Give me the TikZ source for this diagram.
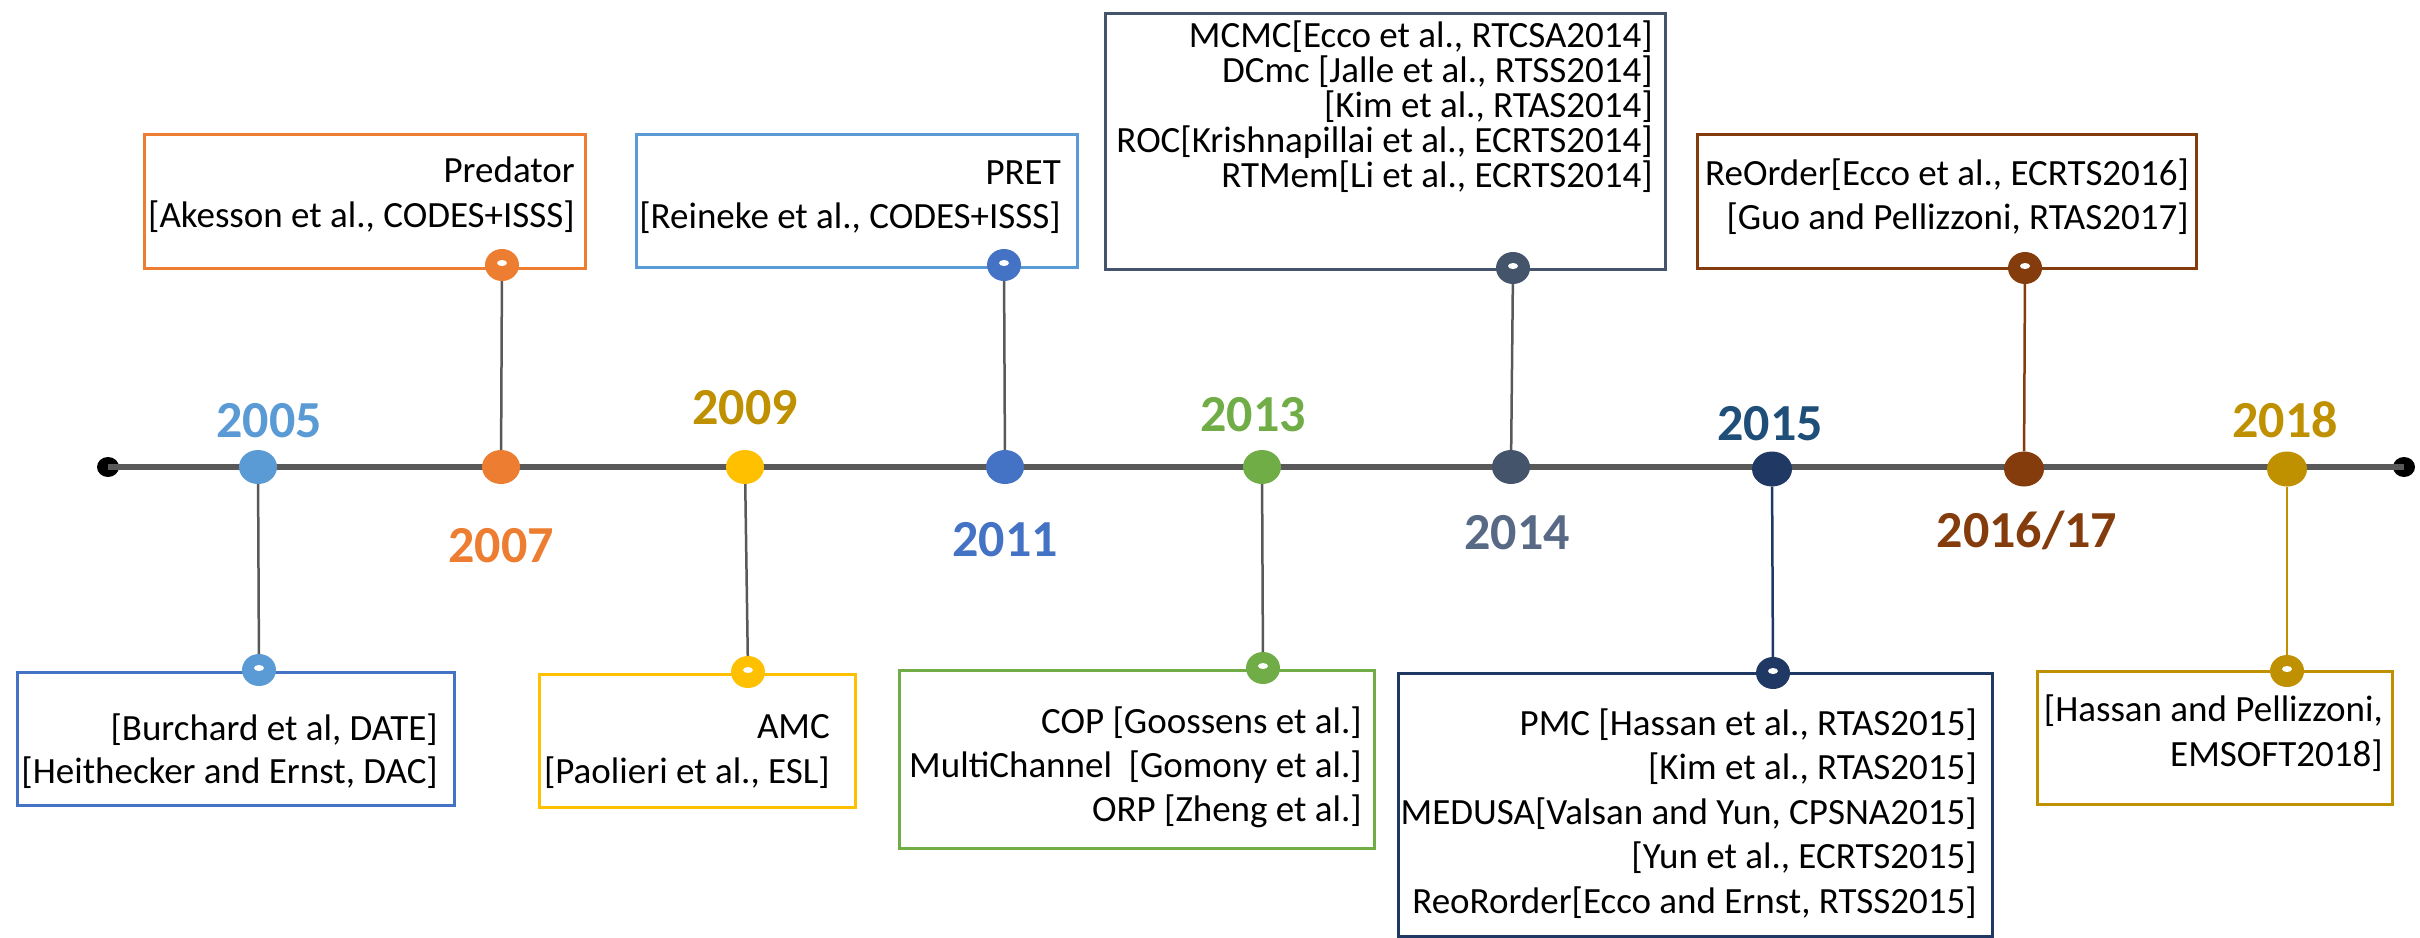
\documentclass[tikz,border=0pt]{standalone}
\usepackage{fontspec}
\setmainfont{Carlito}
\usetikzlibrary{shapes.geometric}
\definecolor{tlgray}{HTML}{595959}
\definecolor{cA}{HTML}{5B9BD5}
\definecolor{cB}{HTML}{4472C4}
\definecolor{cOr}{HTML}{ED7D31}
\definecolor{cYe}{HTML}{FFC000}
\definecolor{cGo}{HTML}{BF9000}
\definecolor{cGr}{HTML}{70AD47}
\definecolor{cSl}{HTML}{44546A}
\definecolor{cSlT}{HTML}{576985}
\definecolor{cNv}{HTML}{203864}
\definecolor{cNvT}{HTML}{1F4E79}
\definecolor{cBr}{HTML}{843C0C}
\tikzset{
  tline/.style={line width=6pt, draw=tlgray},
  enddot/.style={ellipse, fill=black, minimum width=22pt, minimum height=20pt, inner sep=0},
  yeardot/.style={ellipse, minimum width=38pt, minimum height=34pt, inner sep=0},
  pinc/.style={ellipse, minimum width=34pt, minimum height=32pt, inner sep=0,
    path picture={\fill[white] ([yshift=2pt]path picture bounding box.center) ellipse [x radius=5pt, y radius=3pt];}},
  conn/.style={line width=2.5pt, draw=tlgray},
  ebox/.style={rectangle, draw, line width=2.5pt, inner sep=0, anchor=north west},
  yr/.style={font=\bfseries\fontsize{52}{60}\selectfont, anchor=base, inner sep=0},
  tx/.style={font=\fontsize{37}{44}\selectfont, anchor=base east, inner sep=0, text=black},
}
\begin{document}
\begin{tikzpicture}[x=1pt, y=-1pt]
\useasboundingbox (0,0) rectangle (2420,937);
\fill[white] (0,0) rectangle (2420,937);

% end points and timeline
\node[enddot] (L) at (108,467) {};
\node[enddot] (R) at (2404,467) {};
\draw[tline] (L.center) -- (R.center);

% boxes
\node[ebox, draw=cB,  minimum width=437pt, minimum height=133pt] (B05) at (16,671) {};
\node[ebox, draw=cOr, minimum width=441pt, minimum height=134pt] (B07) at (143,133) {};
\node[ebox, draw=cYe, minimum width=316pt, minimum height=133pt] (B09) at (538,673) {};
\node[ebox, draw=cA,  minimum width=441pt, minimum height=133pt] (B11) at (635,133) {};
\node[ebox, draw=cGr, minimum width=475pt, minimum height=178pt] (B13) at (898,669) {};
\node[ebox, draw=cSl, minimum width=560pt, minimum height=256pt] (B14) at (1104,12) {};
\node[ebox, draw=cNv, minimum width=594pt, minimum height=263pt] (B15) at (1397,672) {};
\node[ebox, draw=cBr, minimum width=499pt, minimum height=134pt] (B16) at (1696,133) {};
\node[ebox, draw=cGo, minimum width=355pt, minimum height=133pt] (B18) at (2036,670) {};

% year dots
\node[yeardot, fill=cA]  (D05) at (258,467) {};
\node[yeardot, fill=cOr] (D07) at (501,467) {};
\node[yeardot, fill=cYe] (D09) at (745,467) {};
\node[yeardot, fill=cB]  (D11) at (1005,467) {};
\node[yeardot, fill=cGr] (D13) at (1262,467) {};
\node[yeardot, fill=cSl] (D14) at (1511,467) {};
\node[yeardot, fill=cNv, minimum width=40pt, minimum height=35pt] (D15) at (1772,469) {};
\node[yeardot, fill=cBr, minimum width=40pt, minimum height=35pt] (D16) at (2024,469) {};
\node[yeardot, fill=cGo, minimum width=40pt, minimum height=35pt] (D18) at (2287,469) {};

% pins
\node[pinc, fill=cA]  (P05) at (259,670) {};
\node[pinc, fill=cOr] (P07) at (502,265) {};
\node[pinc, fill=cYe] (P09) at (748,672) {};
\node[pinc, fill=cB]  (P11) at (1004,265) {};
\node[pinc, fill=cGr] (P13) at (1263,668) {};
\node[pinc, fill=cSl] (P14) at (1513,268) {};
\node[pinc, fill=cNv] (P15) at (1773,673) {};
\node[pinc, fill=cBr] (P16) at (2025,268) {};
\node[pinc, fill=cGo] (P18) at (2287,671) {};

% connectors
\draw[conn] (D05) -- (P05);
\draw[conn] (D07) -- (P07);
\draw[conn] (D09) -- (P09);
\draw[conn] (D11) -- (P11);
\draw[conn] (D13) -- (P13);
\draw[conn] (D14) -- (P14);
\draw[conn, draw=cNv] (D15) -- (P15);
\draw[conn, draw=cBr] (D16) -- (P16);
\draw[conn, draw=cGo] (D18) -- (P18);

% year labels
\node[yr, text=cA]   (Y05) at (269,437) {2005};
\node[yr, text=cOr]  (Y07) at (501,562) {2007};
\node[yr, text=cGo]  (Y09) at (745,424) {2009};
\node[yr, text=cB]   (Y11) at (1005,556) {2011};
\node[yr, text=cGr]  (Y13) at (1253,431) {2013};
\node[yr, text=cSlT] (Y14) at (1517,549) {2014};
\node[yr, text=cNvT] (Y15) at (1770,440) {2015};
\node[yr, text=cBr]  (Y16) at (2027,547) {2016/17};
\node[yr, text=cGo]  (Y18) at (2285,437) {2018};

% texts
\node[tx] (T05a) at (438,740) {[Burchard et al, DATE]};
\node[tx] (T05b) at (438,783) {[Heithecker and Ernst, DAC]};

\node[tx] (T07a) at (575,182) {Predator};
\node[tx] (T07b) at (575,227) {[Akesson et al., CODES+ISSS]};

\node[tx] (T09a) at (830,738) {AMC};
\node[tx] (T09b) at (830,783) {[Paolieri et al., ESL]};

\node[tx] (T11a) at (1061,184) {PRET};
\node[tx] (T11b) at (1061,228) {[Reineke et al., CODES+ISSS]};

\node[tx] (T13a) at (1362,733) {COP [Goossens et al.]};
\node[tx] (T13b) at (1362,777) {MultiChannel\ \ [Gomony et al.]};
\node[tx] (T13c) at (1362,821) {ORP [Zheng et al.]};

\node[tx] (T14a) at (1653,47)  {MCMC[Ecco et al., RTCSA2014]};
\node[tx] (T14b) at (1653,82)  {DCmc [Jalle et al., RTSS2014]};
\node[tx] (T14c) at (1653,117) {[Kim et al., RTAS2014]};
\node[tx] (T14d) at (1653,152) {ROC[Krishnapillai et al., ECRTS2014]};
\node[tx] (T14e) at (1653,187) {RTMem[Li et al., ECRTS2014]};

\node[tx] (T15a) at (1977,735) {PMC [Hassan et al., RTAS2015]};
\node[tx] (T15b) at (1977,779) {[Kim et al., RTAS2015]};
\node[tx] (T15c) at (1977,824) {MEDUSA[Valsan and Yun, CPSNA2015]};
\node[tx] (T15d) at (1977,868) {[Yun et al., ECRTS2015]};
\node[tx] (T15e) at (1977,913) {ReoRorder[Ecco and Ernst, RTSS2015]};

\node[tx] (T16a) at (2189,185) {ReOrder[Ecco et al., ECRTS2016]};
\node[tx] (T16b) at (2189,229) {[Guo and Pellizzoni, RTAS2017]};

\node[tx] (T18a) at (2383,721) {[Hassan and Pellizzoni,};
\node[tx] (T18b) at (2383,766) {EMSOFT2018]};
\end{tikzpicture}
\end{document}
